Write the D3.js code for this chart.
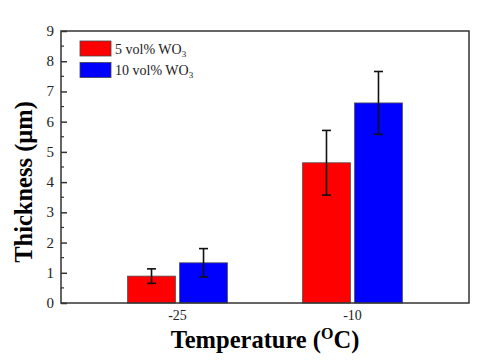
<!DOCTYPE html>
<html><head><meta charset="utf-8">
<script src="https://cdn.jsdelivr.net/npm/d3@7"></script>
<style>body{margin:0;background:#fff}</style>
</head><body>
<svg id="c" width="498" height="364"></svg>
<script>
const categories = ["-25", "-10"];
const seriesNames = ["5 vol% WO", "10 vol% WO"];
const series5 = [0.89, 4.64];
const series10 = [1.33, 6.62];
const err5 = [0.24, 1.07];
const err10 = [0.47, 1.04];
const yTicks = [0,1,2,3,4,5,6,7,8,9];
const colors = ["#ff0000", "#0000ff"];

const svg = d3.select("#c");
const L = 61, R = 469, T = 31, B = 303;
const font = "'Liberation Serif','Times New Roman',serif";

const y = d3.scaleLinear().domain([0, 9]).range([B, T]);
const x = d3.scalePoint().domain(categories).range([L, R]).padding(0.666);
const bw = 48, gap = 4;

const data = [series5, series10];
const errs = [err5, err10];

// bars
data.forEach((s, si) => {
  svg.append("g").selectAll("rect").data(s).join("rect")
    .attr("x", (d, i) => si === 0 ? x(categories[i]) - gap/2 - bw : x(categories[i]) + gap/2)
    .attr("y", d => y(d))
    .attr("width", bw)
    .attr("height", d => y(0) - y(d))
    .attr("fill", colors[si])
    .attr("stroke", "#555").attr("stroke-width", 0.8);
});
// error bars
data.forEach((s, si) => {
  const g = svg.append("g").attr("stroke", "#111").attr("stroke-width", 1.6);
  s.forEach((d, i) => {
    const cx = si === 0 ? x(categories[i]) - gap/2 - bw/2 : x(categories[i]) + gap/2 + bw/2;
    const e = errs[si][i];
    g.append("line").attr("x1", cx).attr("x2", cx).attr("y1", y(d + e)).attr("y2", y(d - e));
    g.append("line").attr("x1", cx - 4.5).attr("x2", cx + 4.5).attr("y1", y(d + e)).attr("y2", y(d + e));
    g.append("line").attr("x1", cx - 4.5).attr("x2", cx + 4.5).attr("y1", y(d - e)).attr("y2", y(d - e));
  });
});

// frame
svg.append("rect").attr("x", L).attr("y", T).attr("width", R - L).attr("height", B - T)
  .attr("fill", "none").attr("stroke", "#333").attr("stroke-width", 1.5);

// y axis (ticks inward)
const yAxis = d3.axisRight(y).tickValues(yTicks).tickSize(6).tickFormat("");
const gy = svg.append("g").attr("transform", `translate(${L},0)`).call(yAxis);
gy.select(".domain").remove();
gy.selectAll("line").attr("stroke", "#333").attr("stroke-width", 1.5);
const minor = d3.range(0.5, 9, 1);
svg.append("g").selectAll("line").data(minor).join("line")
  .attr("x1", L).attr("x2", L + 3).attr("y1", d => y(d)).attr("y2", d => y(d))
  .attr("stroke", "#333").attr("stroke-width", 1.2);
svg.append("g").selectAll("text").data(yTicks).join("text")
  .attr("x", L - 7).attr("y", d => y(d) + 5)
  .attr("text-anchor", "end").attr("font-family", font).attr("font-size", 15).attr("fill", "#222")
  .text(d => d);

// x tick labels
svg.append("g").selectAll("text").data(categories).join("text")
  .attr("x", d => x(d)).attr("y", 320)
  .attr("text-anchor", "middle").attr("font-family", font).attr("font-size", 14).attr("fill", "#222")
  .text(d => d);

// axis titles
const xt = svg.append("text").attr("x", (L + R) / 2).attr("y", 348)
  .attr("text-anchor", "middle").attr("font-family", font).attr("font-weight", "bold").attr("font-size", 24.5);
xt.append("tspan").text("Temperature (");
xt.append("tspan").attr("dy", -9).attr("font-size", 16).text("O");
xt.append("tspan").attr("dy", 9).text("C)");

svg.append("text").attr("transform", `translate(32,${(T + B) / 2 + 15}) rotate(-90)`)
  .attr("text-anchor", "middle").attr("font-family", font).attr("font-weight", "bold").attr("font-size", 24.5)
  .text("Thickness (μm)");

// legend
seriesNames.forEach((n, i) => {
  const ly = 41 + i * 21.5;
  svg.append("rect").attr("x", 80).attr("y", ly).attr("width", 31).attr("height", 15)
    .attr("fill", colors[i]).attr("stroke", "#444").attr("stroke-width", 0.8);
  const t = svg.append("text").attr("x", 115).attr("y", ly + 12.5)
    .attr("font-family", font).attr("font-size", 14).attr("fill", "#222");
  t.append("tspan").text(n);
  t.append("tspan").attr("dy", 3).attr("font-size", 9).text("3");
});
</script>
</body></html>
